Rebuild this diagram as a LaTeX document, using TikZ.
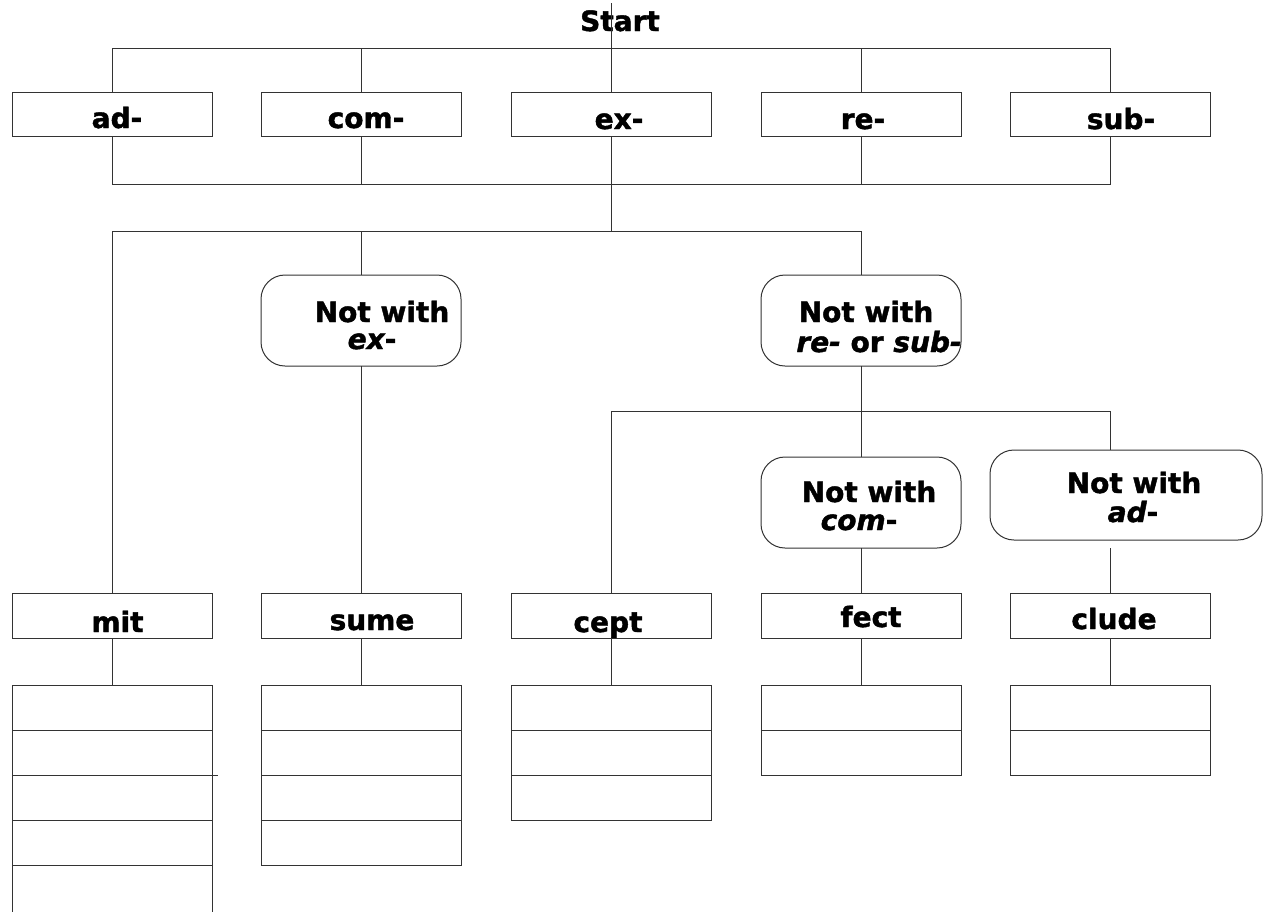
\documentclass[tikz,border=0pt]{standalone}
\usepackage{fontspec}
\setmainfont{DejaVu Sans}[BoldFeatures={FakeBold=1.5},BoldItalicFeatures={FakeBold=1.5}]
\begin{document}
\begin{tikzpicture}[x=1pt,y=-1pt,
  line/.style={draw=black!80, line width=1pt},
  box/.style={line, rectangle, minimum width=200pt, minimum height=45pt, inner sep=0pt, outer sep=0pt},
  rbox/.style={line, rectangle, rounded corners=24pt, minimum width=200pt, minimum height=91pt, inner sep=0pt, outer sep=0pt},
  lbl/.style={anchor=base, inner sep=0pt, font=\fontsize{28}{33}\selectfont\bfseries}]
\useasboundingbox (0,0) rectangle (1263,911);
\fill[white] (0,0) rectangle (1263,911);

% ---- top row ----
\node[lbl] (start) at (620,31) {Start};
\coordinate (top) at (611,3);
\foreach \n/\x in {ad/112, com/361, ex/611, re/861, sub/1110}
  \node[box, minimum height=44pt] (\n) at (\x,114) {};
\node[lbl] (tad) at (117,128) {ad-};
\node[lbl] (tcom) at (366,128) {com-};
\node[lbl] (tex) at (619,129) {ex-};
\node[lbl] (tre) at (863,129) {re-};
\node[lbl] (tsub) at (1121,129) {sub-};

\coordinate (b1) at (0,48);
\coordinate (b2) at (0,184);
\coordinate (b3) at (0,231);
\coordinate (b4) at (0,411);

\draw[line] (top) -- (ex.north);
\draw[line] (ad.north |- b1) -- (sub.north |- b1);
\foreach \n in {ad, com, re, sub}
  \draw[line] (\n.north |- b1) -- (\n.north);
\draw[line] (ad.south) -- (ad.south |- b2) -- (sub.south |- b2) -- (sub.south);
\foreach \n in {com, ex, re}
  \draw[line] (\n.south) -- (\n.south |- b2);
\draw[line] (ex.south |- b2) -- (ex.south |- b3);

% ---- rounded decision boxes ----
\node[rbox] (nwex) at (361,320.5) {};
\node[rbox] (nwre) at (861,320.5) {};
\node[rbox] (nwcom) at (861,502.5) {};
\node[rbox, minimum width=272pt, minimum height=90pt] (nwad) at (1126,495) {};
\node[lbl] (tnwex1) at (382,322) {Not with};
\node[lbl] (tnwex2) at (372,349) {\itshape ex\upshape -};
\node[lbl] (tnwre1) at (866,322) {Not with};
\node[lbl] (tnwre2) at (879,352) {\itshape re- \upshape or \itshape sub-};
\node[lbl] (tnwcom1) at (869,502) {Not with};
\node[lbl] (tnwcom2) at (859,530) {\itshape com\upshape -};
\node[lbl] (tnwad1) at (1134,493) {Not with};
\node[lbl] (tnwad2) at (1133,522) {\itshape ad\upshape -};

% ---- stem row ----
\foreach \n/\x in {mit/112, sume/361, cept/611, fect/861, clude/1110}
  \node[box] (\n) at (\x,615.5) {};
\node[lbl] (tmit) at (117.5,632) {mit};
\node[lbl] (tsume) at (372,630) {sume};
\node[lbl] (tcept) at (608,632) {cept};
\node[lbl] (tfect) at (871,627) {fect};
\node[lbl] (tclude) at (1114,629) {clude};

\draw[line] (mit.north |- b3) -- (nwre.north |- b3);
\draw[line] (mit.north |- b3) -- (mit.north);
\draw[line] (nwex.north |- b3) -- (nwex.north);
\draw[line] (nwre.north |- b3) -- (nwre.north);
\draw[line] (nwex.south) -- (sume.north);
\draw[line] (nwre.south) -- (nwre.south |- b4);
\draw[line] (cept.north |- b4) -- (clude.north |- b4);
\draw[line] (cept.north |- b4) -- (cept.north);
\draw[line] (nwcom.north |- b4) -- (nwcom.north);
\coordinate (adtop) at (1110,450);
\draw[line] (clude.north |- b4) -- (adtop);
\draw[line] (nwcom.south) -- (fect.north);
\coordinate (adbot) at (1110,548);
\draw[line] (adbot) -- (clude.north);

% ---- answer cells ----
\foreach \n/\x/\k in {mit/112/4, sume/361/4, cept/611/3, fect/861/2, clude/1110/2}{
  \foreach \i in {1,...,\k}
    \node[box] (\n\i) at (\x,{662.5+45*\i}) {};
  \draw[line] (\n.south) -- (\n1.north);
}
% last mit cell runs off the bottom edge of the page
\node[box, minimum height=55pt, anchor=north] (mit5) at (mit4.south) {};
\coordinate (tick) at (218,775);
\draw[line] (mit2.south east) -- (tick);
\end{tikzpicture}
\end{document}
